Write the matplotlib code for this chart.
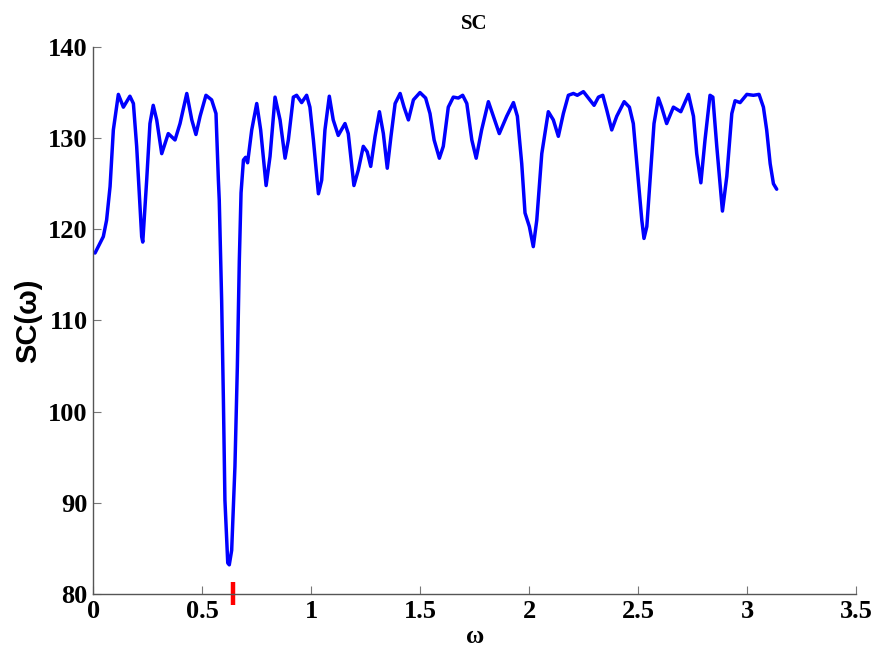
import matplotlib
matplotlib.use("Agg")
import matplotlib.pyplot as plt

omega = [0.008, 0.046, 0.061, 0.077, 0.092, 0.115, 0.138, 0.168, 0.184, 0.199,
         0.222, 0.227, 0.245, 0.260, 0.275, 0.291, 0.314, 0.344, 0.375, 0.398,
         0.429, 0.452, 0.471, 0.490, 0.517, 0.543, 0.563, 0.574, 0.578, 0.589,
         0.597, 0.604, 0.617, 0.624, 0.635, 0.650, 0.661, 0.670, 0.678, 0.689,
         0.699, 0.708, 0.727, 0.750, 0.768, 0.793, 0.811, 0.834, 0.857, 0.880,
         0.895, 0.918, 0.933, 0.956, 0.979, 0.994, 1.010, 1.033, 1.048, 1.063,
         1.083, 1.101, 1.124, 1.155, 1.170, 1.196, 1.216, 1.239, 1.257, 1.273,
         1.293, 1.313, 1.331, 1.349, 1.366, 1.385, 1.408, 1.426, 1.446, 1.469,
         1.499, 1.525, 1.545, 1.564, 1.588, 1.606, 1.629, 1.652, 1.675, 1.695,
         1.714, 1.737, 1.757, 1.782, 1.813, 1.836, 1.863, 1.897, 1.928, 1.946,
         1.966, 1.981, 2.001, 2.019, 2.035, 2.058, 2.088, 2.111, 2.134, 2.157,
         2.180, 2.203, 2.221, 2.249, 2.272, 2.298, 2.318, 2.338, 2.356, 2.379,
         2.402, 2.436, 2.460, 2.478, 2.501, 2.517, 2.527, 2.540, 2.555, 2.573,
         2.593, 2.608, 2.631, 2.662, 2.696, 2.731, 2.754, 2.769, 2.788, 2.807,
         2.830, 2.843, 2.861, 2.887, 2.907, 2.930, 2.945, 2.968, 2.999, 3.029,
         3.055, 3.075, 3.090, 3.106, 3.121, 3.136]
sc = [117.4, 119.2, 121.0, 124.7, 130.9, 134.8, 133.4, 134.6, 133.8, 129.1,
      119.2, 118.6, 125.4, 131.6, 133.6, 132.0, 128.3, 130.5, 129.8, 131.6,
      134.9, 132.0, 130.4, 132.4, 134.7, 134.2, 132.7, 125.4, 123.2, 112.2,
      101.3, 90.3, 83.4, 83.2, 84.8, 94.0, 104.9, 116.5, 124.0, 127.6,
      127.9, 127.3, 130.9, 133.8, 130.9, 124.8, 128.0, 134.5, 132.0, 127.8,
      129.8, 134.5, 134.7, 133.9, 134.7, 133.4, 129.8, 123.9, 125.4, 130.9,
      134.6, 132.0, 130.3, 131.6, 130.5, 124.8, 126.5, 129.1, 128.5, 126.9,
      130.2, 132.9, 130.5, 126.7, 130.2, 133.8, 134.9, 133.4, 132.0, 134.2,
      135.0, 134.4, 132.7, 129.8, 127.8, 129.1, 133.4, 134.5, 134.4, 134.7,
      133.8, 129.8, 127.8, 130.9, 134.0, 132.4, 130.5, 132.4, 133.9, 132.4,
      127.2, 121.8, 120.3, 118.1, 121.0, 128.3, 132.9, 132.0, 130.2, 132.7,
      134.7, 134.9, 134.7, 135.1, 134.4, 133.6, 134.5, 134.7, 133.1, 130.9,
      132.4, 134.0, 133.4, 131.6, 125.4, 121.0, 119.0, 120.3, 125.4, 131.6,
      134.4, 133.4, 131.6, 133.4, 132.9, 134.8, 132.4, 128.3, 125.1, 129.8,
      134.7, 134.5, 129.1, 122.0, 125.8, 132.7, 134.1, 133.9, 134.8, 134.7,
      134.8, 133.4, 130.9, 127.2, 125.0, 124.4]

marker_omega = 0.643
xticks = [0, 0.5, 1, 1.5, 2, 2.5, 3, 3.5]
xticklabels = ["0", "0.5", "1", "1.5", "2", "2.5", "3", "3.5"]
yticks = [80, 90, 100, 110, 120, 130, 140]

serif = ["Liberation Serif", "DejaVu Serif"]

fig = plt.figure(figsize=(8.76, 6.57), dpi=100)
ax = fig.add_axes([0.1065, 0.0959, 0.8707, 0.8326])
ax.plot(omega, sc, color=(0, 0, 1), lw=2.5, solid_joinstyle="round",
        solid_capstyle="round")
ax.plot([marker_omega, marker_omega], [78.8, 81.3], color="red", lw=3.2,
        clip_on=False, solid_capstyle="butt")

ax.set_xlim(0, 3.5)
ax.set_ylim(80, 140)
ax.set_xticks(xticks)
ax.set_xticklabels(xticklabels)
ax.set_yticks(yticks)
for s in ["top", "right"]:
    ax.spines[s].set_visible(False)
for s in ["left", "bottom"]:
    ax.spines[s].set_color("#555555")
    ax.spines[s].set_linewidth(1.0)
ax.tick_params(direction="in", length=6, width=0.8, color="#777777", pad=4)
for lab in ax.get_xticklabels() + ax.get_yticklabels():
    lab.set_fontfamily(serif)
    lab.set_fontweight("bold")
    lab.set_fontsize(19)

ax.set_title("SC", fontfamily=serif, fontweight="bold", fontsize=15, pad=13)
ax.set_xlabel("ω", fontfamily=serif, fontweight="bold", fontsize=18, labelpad=2)
ax.set_ylabel("SC(ω)", fontfamily=["Liberation Sans", "DejaVu Sans"],
              fontweight="bold", fontsize=21, labelpad=4)

fig.savefig("out.png", dpi=100)
